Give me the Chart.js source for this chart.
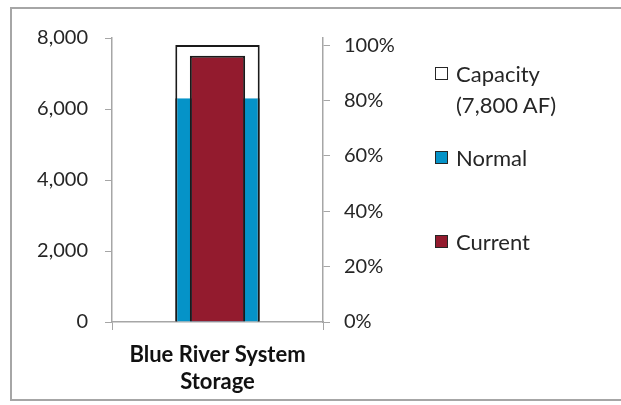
<!DOCTYPE html>
<html>
<head>
<meta charset="utf-8">
<script src="https://cdn.jsdelivr.net/npm/chart.js@4"></script>
<style>
  html, body { margin: 0; padding: 0; background: #fff; }
  #wrap { position: relative; width: 621px; height: 405px; overflow: hidden; }
  #frame { position: absolute; left: 10px; top: 7px; width: 640px; height: 394px; border: 2px solid #a6a6a6; box-sizing: border-box; }
  #chart { position: absolute; left: 0; top: 0; }
  .legend { position: absolute; left: 435px; font-family: Lato, sans-serif; font-size: 22px; color: #262626; line-height: 31px; }
  .legend .box { position: absolute; left: 0; top: 9px; width: 13px; height: 13px; border: 1px solid #262626; box-sizing: border-box; }
  .legend .txt { position: absolute; left: 21px; top: 0; white-space: pre; }
</style>
</head>
<body>
<div id="wrap">
  <div id="frame"></div>
  <canvas id="chart" width="621" height="405"></canvas>
  <div id="legend"></div>
</div>
<script>
const categories = [['Blue River System', 'Storage']];
const capacity = [7800];
const normal = [6300];
const current = [7500];
const leftTicks = [0, 2000, 4000, 6000, 8000];
const rightTicks = [0, 20, 40, 60, 80, 100];

const colors = {
    capacity: '#ffffff',
    normal: '#0593c8',
    current: '#931b2e'
};

document.addEventListener('DOMContentLoaded', function() {
    const ctx = document.getElementById('chart').getContext('2d');
    const axisColor = '#a6a6a6';
    const textColor = '#262626';
    const font = { family: 'Lato, sans-serif', size: 20 };
    const leftMax = leftTicks[leftTicks.length - 1];
    const rightMax = leftMax / capacity[0] * 100;

    const legendItems = [
        { label: 'Capacity\n(' + capacity[0].toLocaleString('en-US') + ' AF)', color: colors.capacity, top: 58 },
        { label: 'Normal', color: colors.normal, top: 142 },
        { label: 'Current', color: colors.current, top: 226 }
    ];
    const legend = document.getElementById('legend');
    legendItems.forEach(function(item) {
        const el = document.createElement('div');
        el.className = 'legend';
        el.style.top = item.top + 'px';
        el.innerHTML = '<div class="box" style="background:' + item.color + '"></div>';
        const txt = document.createElement('div');
        txt.className = 'txt';
        txt.textContent = item.label;
        el.appendChild(txt);
        legend.appendChild(el);
    });

    new Chart(ctx, {
        type: 'bar',
        data: {
            labels: categories,
            datasets: [
                {
                    label: 'Capacity',
                    data: capacity,
                    backgroundColor: colors.capacity,
                    borderColor: '#1a1a1a',
                    borderWidth: { left: 2, right: 2, top: 2, bottom: 0 },
                    borderSkipped: false,
                    barPercentage: 0.4,
                    order: 3,
                    yAxisID: 'y'
                },
                {
                    label: 'Normal',
                    data: normal,
                    backgroundColor: colors.normal,
                    borderColor: '#1a1a1a',
                    borderWidth: { left: 2, right: 2, top: 0, bottom: 0 },
                    borderSkipped: false,
                    barPercentage: 0.4,
                    order: 2,
                    yAxisID: 'y'
                },
                {
                    label: 'Current',
                    data: current,
                    backgroundColor: colors.current,
                    borderColor: '#1a1a1a',
                    borderWidth: { left: 2, right: 2, top: 2, bottom: 0 },
                    borderSkipped: false,
                    barPercentage: 0.262,
                    order: 1,
                    yAxisID: 'y'
                }
            ]
        },
        options: {
            responsive: false,
            animation: false,
            grouped: false,
            categoryPercentage: 1,
            layout: { padding: { left: 0, right: 0, top: 38, bottom: 0 } },
            plugins: {
                legend: { display: false },
                tooltip: { enabled: false }
            },
            scales: {
                x: {
                    grid: { display: true, drawOnChartArea: false, color: axisColor, tickLength: 8 },
                    border: { color: axisColor, width: 1.5 },
                    ticks: { color: '#111111', font: { family: font.family, size: 22, weight: 'bold', lineHeight: 1.25 }, padding: 11, maxRotation: 0 },
                    afterFit: function(scale) { scale.height = 83; }
                },
                y: {
                    position: 'left',
                    min: 0,
                    max: leftMax,
                    afterBuildTicks: function(scale) { scale.ticks = leftTicks.map(function(v) { return { value: v }; }); },
                    grid: { display: true, drawOnChartArea: false, color: axisColor, tickLength: 7 },
                    border: { color: axisColor, width: 1.5 },
                    ticks: { color: textColor, font: font, padding: 17, callback: function(v) { return v.toLocaleString('en-US'); } },
                    afterFit: function(scale) { scale.width = 112; }
                },
                y2: {
                    position: 'right',
                    min: 0,
                    max: rightMax,
                    afterBuildTicks: function(scale) { scale.ticks = rightTicks.map(function(v) { return { value: v }; }); },
                    grid: { display: true, drawOnChartArea: false, color: axisColor, tickLength: 7 },
                    border: { color: axisColor, width: 1.5 },
                    ticks: { color: textColor, font: font, padding: 14, callback: function(v) { return v + '%'; } },
                    afterFit: function(scale) { scale.width = 298; }
                }
            }
        }
    });
});
</script>
</body>
</html>
